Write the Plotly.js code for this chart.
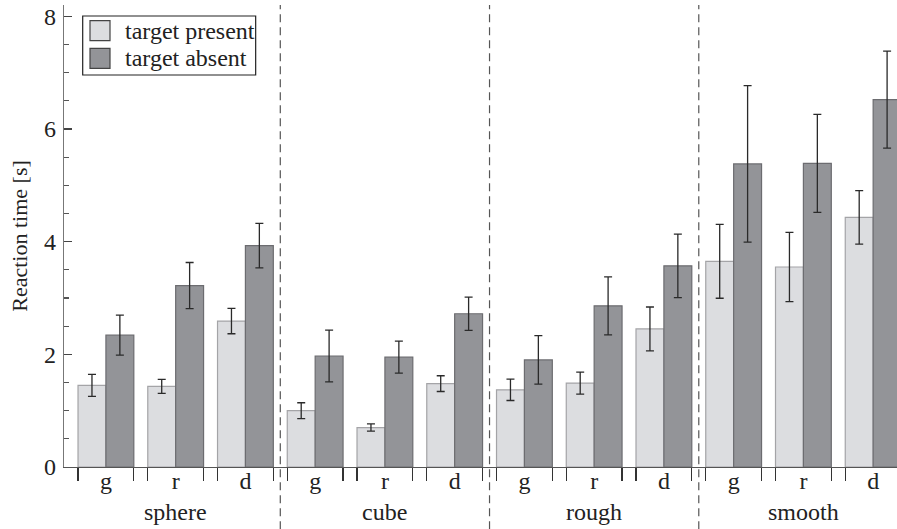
<!DOCTYPE html>
<html>
<head>
<meta charset="utf-8">
<script src="https://cdn.plot.ly/plotly-3.0.1.min.js"></script>
<style>html,body{margin:0;padding:0;background:#fff;}#chart{width:897px;height:529px;}</style>
</head>
<body>
<div id="chart"></div>
<script>
// ---- data ----
const groups = ['sphere', 'cube', 'rough', 'smooth'];
const conditions = ['g', 'r', 'd'];
const seriesNames = ['target present', 'target absent'];
const present    = [1.45, 1.43, 2.59, 1.00, 0.70, 1.48, 1.37, 1.49, 2.45, 3.65, 3.55, 4.43];
const presentErr = [0.195, 0.125, 0.225, 0.14, 0.065, 0.14, 0.19, 0.195, 0.39, 0.655, 0.615, 0.475];
const absent     = [2.34, 3.22, 3.93, 1.97, 1.95, 2.72, 1.90, 2.86, 3.57, 5.38, 5.39, 6.52];
const absentErr  = [0.355, 0.41, 0.395, 0.46, 0.285, 0.295, 0.43, 0.515, 0.565, 1.39, 0.87, 0.86];
const yTicks = [0, 2, 4, 6, 8];

// ---- derived positions (category indices) ----
const nPos = groups.length * conditions.length;
const pos = Array.from({length: nPos}, (_, i) => i);
const condLabels = pos.map(i => conditions[i % conditions.length]);
const half = 0.4;
const edgeTicks = [];
pos.forEach(i => { edgeTicks.push(i - half, i + half); });

const fills = ['#dcdde0', '#939498'];
const edges = ['#a4a4a7', '#6c6c70'];
const errStyle = {color: '#2a2a2a', thickness: 1.3, width: 4};
const FONT = 'Liberation Serif';
const FS = 24;

const traces = [
  {type: 'bar', x: pos, y: present, name: seriesNames[0], showlegend: false,
   marker: {color: fills[0], line: {color: edges[0], width: 1.2}},
   error_y: Object.assign({type: 'data', array: presentErr, visible: true}, errStyle)},
  {type: 'bar', x: pos, y: absent, name: seriesNames[1], showlegend: false,
   marker: {color: fills[1], line: {color: edges[1], width: 1.2}},
   error_y: Object.assign({type: 'data', array: absentErr, visible: true}, errStyle)},
  // empty trace on xaxis2 so its tick labels render
  {type: 'scatter', x: [null], y: [null], xaxis: 'x2', yaxis: 'y', showlegend: false, hoverinfo: 'skip'}
];

const xRange = [-0.601, 11.342];

const shapes = [];
for (let g = 1; g < groups.length; g++) {
  const xd = g * conditions.length - 0.5;
  shapes.push({type: 'line', xref: 'x', yref: 'paper', x0: xd, x1: xd, y0: -0.135, y1: 1.0,
    line: {color: '#555', width: 1.2, dash: '8px,5px'}});
}

const annotations = groups.map((gname, g) => ({
  text: gname, xref: 'x', yref: 'paper',
  x: g * conditions.length + (conditions.length - 1) / 2, y: -0.098,
  xanchor: 'center', yanchor: 'middle', showarrow: false,
  font: {family: FONT, size: FS, color: '#222'}
}));

// legend box drawn as shapes + text
const lg = {x0: 0.02245, x1: 0.2301, y0: 0.8485, y1: 0.9762,
  sx0: 0.03121, sx1: 0.05522, tx: 0.07083,
  rows: [{y0: 0.9227, y1: 0.9660, ty: 0.9437}, {y0: 0.8630, y1: 0.9063, ty: 0.8842}]};
shapes.push({type: 'rect', xref: 'paper', yref: 'paper', x0: lg.x0, x1: lg.x1, y0: lg.y0, y1: lg.y1,
  fillcolor: '#fff', line: {color: '#222', width: 1.2}, layer: 'above'});
seriesNames.forEach((nm, k) => {
  const r = lg.rows[k];
  shapes.push({type: 'rect', xref: 'paper', yref: 'paper', x0: lg.sx0, x1: lg.sx1, y0: r.y0, y1: r.y1,
    fillcolor: fills[k], line: {color: '#444', width: 1.2}, layer: 'above'});
  annotations.push({text: nm, xref: 'paper', yref: 'paper', x: lg.tx, y: r.ty,
    xanchor: 'left', yanchor: 'middle', showarrow: false,
    font: {family: FONT, size: FS, color: '#222'}});
});

const layout = {
  width: 897, height: 529,
  margin: {l: 64, r: 0, t: 5, b: 62},
  paper_bgcolor: '#fff', plot_bgcolor: '#fff',
  font: {family: FONT, size: FS, color: '#222'},
  barmode: 'group', bargap: 0.2, bargroupgap: 0,
  showlegend: false,
  xaxis: {type: 'linear', range: xRange, showgrid: false, zeroline: false,
    showline: true, linecolor: '#555', linewidth: 1.3,
    tickmode: 'array', tickvals: edgeTicks, ticktext: edgeTicks.map(() => ''),
    ticks: 'outside', ticklen: 13, tickwidth: 1.2, tickcolor: '#333', showticklabels: false, fixedrange: true},
  xaxis2: {type: 'linear', overlaying: 'x', anchor: 'y', side: 'bottom', range: xRange,
    showgrid: false, zeroline: false, showline: false, ticks: '',
    tickmode: 'array', tickvals: pos, ticktext: condLabels, ticklabelstandoff: -3,
    tickfont: {family: FONT, size: FS, color: '#222'}},
  yaxis: {range: [0, 8.2], showgrid: false, zeroline: false,
    showline: true, linecolor: '#777', linewidth: 1.2,
    tickmode: 'array', tickvals: yTicks, ticks: 'inside', ticklen: 8, tickwidth: 1.2, tickcolor: '#444',
    minor: {dtick: 0.5, tick0: 0, ticks: 'inside', ticklen: 5, tickwidth: 1.1, tickcolor: '#555', showgrid: false},
    tickfont: {family: FONT, size: FS, color: '#222'}, ticklabelstandoff: 2,
    title: {text: 'Reaction time [s]', font: {family: FONT, size: 22, color: '#222'}, standoff: 10}},
  shapes: shapes,
  annotations: annotations
};

Plotly.newPlot('chart', traces, layout, {displayModeBar: false, staticPlot: true});
</script>
</body>
</html>
